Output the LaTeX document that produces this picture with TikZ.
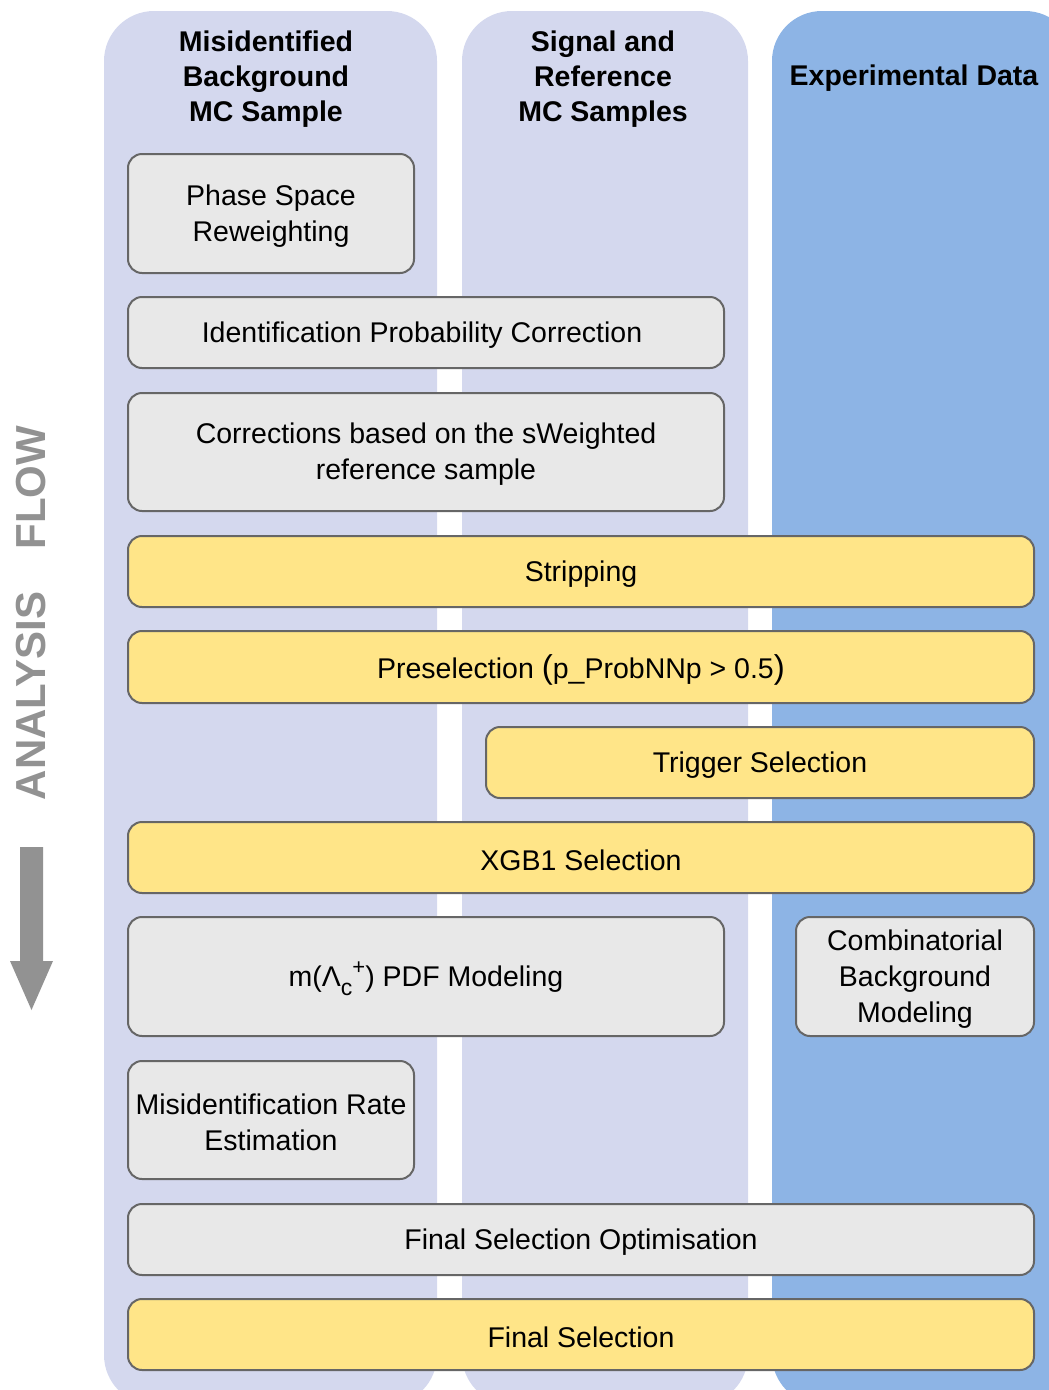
\documentclass[tikz,border=0pt]{standalone}
\usepackage{fontspec}
\setmainfont{Liberation Sans}
\definecolor{lanelav}{HTML}{D4D8EE}
\definecolor{laneblue}{HTML}{8DB4E5}
\definecolor{stageyellow}{HTML}{FFE588}
\definecolor{stagegray}{HTML}{E8E8E8}
\definecolor{stageedge}{HTML}{666666}
\definecolor{flowgray}{HTML}{929292}
% \stagebox{name}{style}{x1}{y1}{x2}{y2}{text}: framed stage with its label
\newcommand\stagebox[7]{%
  \path[#2] (#3,#4) rectangle (#5,#6);
  \node[align=center] (#1) at ({(#3+#5)/2},{(#4+#6)/2+2.5}) {#7};}
\begin{document}
\begin{tikzpicture}[x=1pt,y=-1pt,
  every node/.style={font=\fontsize{28.5}{36}\selectfont, inner sep=0pt},
  lane/.style={rounded corners=50pt},
  header/.style={font=\fontsize{28.5}{35}\selectfont\bfseries, align=center},
  stage/.style={draw=stageedge, line width=2pt, rounded corners=14pt},
  graystage/.style={stage, fill=stagegray},
  yellowstage/.style={stage, fill=stageyellow}]
\clip (0,0) rectangle (1049,1390);

% sample lanes
\fill[lane, lanelav] (104,11) rectangle (437,1405);
\fill[lane, lanelav] (462,11) rectangle (748,1405);
\fill[lane, laneblue] (772,11) rectangle (1075,1405);

\node[header] (hmis) at (266,79.5) {Misidentified\\Background\\MC Sample};
\node[header] (hsig) at (603,79.5) {Signal and\\Reference\\MC Samples};
\node[header] (hdata) at (914,78) {Experimental Data};

% analysis stages
\stagebox{phsp}{graystage}{128}{154}{414}{273}{Phase Space\\Reweighting}
\stagebox{pid}{graystage}{128}{297}{724}{368}{\hspace*{-8pt}Identification Probability Correction}
\stagebox{sw}{graystage}{128}{393}{724}{511}{Corrections based on the sWeighted\\reference sample}
\stagebox{strip}{yellowstage}{128}{536}{1034}{607}{Stripping}
\stagebox{presel}{yellowstage}{128}{631}{1034}{703}{Preselection {\fontsize{33}{33}\selectfont(}p\_ProbNNp > 0.5{\fontsize{33}{33}\selectfont)}}
\stagebox{trig}{yellowstage}{486}{727}{1034}{798}{Trigger Selection}
\stagebox{xgb}{yellowstage}{128}{822}{1034}{893}{XGB1 Selection}
\stagebox{pdf}{graystage}{128}{917}{724}{1036}{m(Λ\raisebox{-0.3em}{\fontsize{23}{23}\selectfont c}\raisebox{0.42em}{\fontsize{22}{22}\selectfont +}) PDF Modeling}
\stagebox{comb}{graystage}{796}{917}{1034}{1036}{Combinatorial\\Background\\Modeling}
\stagebox{misrate}{graystage}{128}{1061}{414}{1179}{Misidentification Rate\\Estimation}
\stagebox{opt}{graystage}{128}{1204}{1034}{1275}{Final Selection Optimisation}
\stagebox{final}{yellowstage}{128}{1299}{1034}{1370}{Final Selection}

% flow direction
\node[rotate=90, text=flowgray, font=\fontsize{42}{42}\selectfont\bfseries] (flow)
  at (31,613) {ANALYSIS\hspace{42pt}FLOW};
\fill[flowgray] (20,847) -- (43,847) -- (43,961) -- (53,961) -- (31.5,1010)
  -- (10,961) -- (20,961) -- cycle;
\end{tikzpicture}
\end{document}
